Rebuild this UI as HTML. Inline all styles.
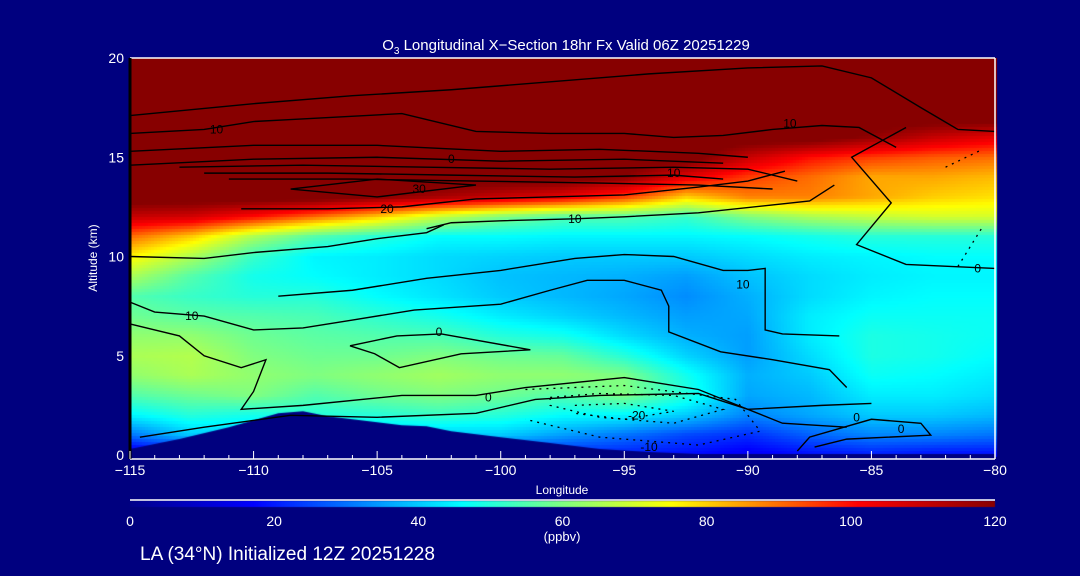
<!DOCTYPE html>
<html><head><meta charset="utf-8"><style>
html,body{margin:0;padding:0;background:#00007f;}
#wrap{position:relative;width:1080px;height:576px;overflow:hidden;background:#00007f;font-family:"Liberation Sans",sans-serif;color:#fff;}
#fill{position:absolute;left:0;top:0;}
svg{position:absolute;left:0;top:0;}
</style></head><body>
<div id="wrap">
<canvas id="fill" width="1080" height="576"></canvas>
<svg id="svg" width="1080" height="576"></svg>
</div>
<script>
// ---- data ----
const lons = [-115,-112.5,-110,-107.5,-105,-102.5,-100,-97.5,-95,-92.5,-90,-87.5,-85,-82.5,-80];
const alts = [0,1,2,3,4,5,6,7,8,9,10,11,12,13,14,15,16,17,18,19,20];
// ozone columns (ppbv) by altitude 0..20 km
const colA = [10,30,45,55,62,65,62,58,55,65,76,90,110,125,125,125,125,125,125,125,125];
const colB = [15,40,50,58,65,66,62,56,52,55,65,80,108,125,125,125,125,125,125,125,125];
const colC = [20,40,48,60,62,60,58,55,50,48,52,65,100,125,125,125,125,125,125,125,125];
const colD = [20,40,50,55,60,58,56,54,50,46,45,55,90,125,125,125,125,125,125,125,125];
const colE = [20,40,50,58,62,58,55,51,46,44,44,50,80,120,125,125,125,125,125,125,125];
const colF = [20,40,52,60,64,60,54,48,43,42,42,46,68,115,125,125,125,125,125,125,125];
const colG = [20,40,50,58,62,58,50,44,40,39,41,46,60,110,125,125,125,125,125,125,125];
const colH = [20,35,46,55,62,57,48,41,38,38,40,45,55,105,125,125,125,125,125,125,125];
const colI = [20,30,45,60,60,50,42,38,36,37,40,45,55,95,120,125,125,125,125,125,125];
const colJ = [18,25,40,50,48,41,37,35,33,35,40,45,52,80,105,125,125,125,125,125,125];
const colK = [15,22,32,36,37,35,35,36,37,39,42,46,60,88,95,110,125,125,125,125,125];
const colL = [18,28,36,38,40,42,44,44,42,42,44,48,65,88,90,100,125,125,125,125,125];
const colM = [20,32,40,44,47,49,49,47,45,44,45,50,68,84,84,95,118,125,125,125,125];
const colN = [18,32,40,44,46,48,48,47,46,45,46,50,70,80,84,92,110,125,125,125,125];
const colO = [18,30,38,42,44,46,47,47,46,45,46,50,70,78,82,90,105,125,125,125,125];
const columns = [colA,colB,colC,colD,colE,colF,colG,colH,colI,colJ,colK,colL,colM,colN,colO];
// terrain
const terrLon = [-115,-113,-111,-109,-108,-107,-106,-104,-103,-102,-100,-98,-96,-94,-92,-80];
const terrAlt = [0.3,0.8,1.4,2.1,2.2,1.95,1.8,1.5,1.45,1.2,0.9,0.6,0.3,0.15,0.05,0.05];
// ticks
const xTicks = [-115,-110,-105,-100,-95,-90,-85,-80];
const yTicks = [0,5,10,15,20];
const cbTicks = [0,20,40,60,80,100,120];
// contour lines [lon,alt] pairs, and dotted ones
const contours = [
 [[-115,17.1],[-110,17.7],[-106,18.1],[-102,18.4],[-98,18.8],[-94,19.2],[-90,19.5],[-87,19.6],[-85,19.0],[-83,17.5],[-81.5,16.4],[-80,16.3]],
 [[-115,16.2],[-112,16.4],[-110,16.8],[-108.5,16.9],[-104,17.2],[-101,16.3],[-98,16.2],[-95,16.2],[-93,16.0],[-91,16.1],[-89,16.4],[-87,16.6],[-85.5,16.5],[-84,15.5]],
 [[-115,15.3],[-110,15.6],[-105,15.6],[-100,15.3],[-96,15.4],[-92,15.2],[-90,15.0]],
 [[-115,14.6],[-110,14.9],[-105,15.0],[-100,14.8],[-95,14.9],[-91,14.7]],
 [[-113,14.5],[-108,14.6],[-103,14.5],[-98,14.4],[-93,14.5],[-90,14.4],[-88,13.8]],
 [[-112,14.2],[-107,14.2],[-102,14.1],[-97,14.0],[-93,14.1],[-91,13.9]],
 [[-111,13.9],[-106,13.9],[-101,13.8],[-96,13.7],[-92,13.6],[-89,13.4]],
 [[-108.5,13.4],[-105,13.9],[-101,13.6],[-105,13.0],[-108.5,13.4]],
 [[-110.5,12.4],[-107,12.4],[-104,12.5],[-101,12.9],[-98,13.0],[-95,13.1],[-92,13.5],[-90,13.8],[-88.5,14.3]],
 [[-103,11.4],[-102,11.7],[-100,11.8],[-97,11.9],[-95,12.0],[-92,12.2],[-89,12.6],[-87.5,12.8],[-86.5,13.6]],
 [[-83.6,16.5],[-85.8,15.0],[-84.2,12.7],[-85.6,10.6],[-83.6,9.6],[-80,9.4]],
 [[-115,10.0],[-112,9.9],[-110,10.2],[-107,10.5],[-105,10.9],[-103,11.2],[-102.3,11.6]],
 [[-115,7.7],[-114,7.2],[-112,7.0],[-110,6.3],[-108,6.4],[-106,6.8],[-103.5,7.3],[-100,7.6],[-98,8.3],[-96.5,8.8],[-95,8.8],[-93.5,8.3],[-93.2,7.5],[-93.2,6.2],[-91.1,5.2],[-89,4.8],[-86.7,4.3],[-86,3.4]],
 [[-115,6.6],[-113,6.0],[-112,5.0],[-110.5,4.4],[-109.5,4.8],[-110,3.2],[-110.5,2.3],[-108,2.5],[-104,3.0],[-101,3.0],[-99,3.4],[-95,3.9],[-92,3.3],[-90,2.3],[-87,2.5],[-85,2.6]],
 [[-106.1,5.5],[-104.2,6.0],[-102.4,6.1],[-98.8,5.3],[-101.6,5.1],[-104.1,4.4],[-105.1,5.1],[-106.1,5.5]],
 [[-109,8.0],[-106,8.3],[-103,8.9],[-100,9.3],[-97,9.9],[-95,10.1],[-93,10.0],[-91,9.3],[-90,9.3],[-89.3,9.4],[-89.3,6.3],[-88.6,6.1],[-86.3,6.0]],
 [[-114.6,0.9],[-112,1.4],[-108.5,2.0],[-105,1.9],[-101,2.1],[-98.6,2.8],[-96,3.0],[-92,3.1],[-90,2.3],[-88.6,1.6],[-86,1.4]],
 [[-88,0.2],[-87.5,0.9],[-85,1.8],[-83,1.6],[-82.6,1.0],[-86,0.8],[-87.3,0.4]]
];
const dotted = [
 [[-98,2.9],[-96,3.1],[-93,3.0],[-91,2.3],[-93,1.6],[-96,1.9],[-98,2.5],[-98,2.9]],
 [[-97,2.5],[-95,2.6],[-93,2.2],[-95,1.8],[-97,2.1]],
 [[-99,3.3],[-95,3.5],[-90.5,2.8],[-89.5,1.2],[-92,0.5],[-96,0.9],[-99,1.8]],
 [[-82,14.5],[-80.5,15.4]],
 [[-81.5,9.5],[-80.5,11.5]]
];
const labels = [["10",-111.5,16.4],["0",-102,14.9],["30",-103.3,13.4],["20",-104.6,12.4],["10",-97,11.9],["10",-88.3,16.7],["10",-93,14.2],["0",-80.7,9.4],["10",-112.5,7.0],["0",-102.5,6.2],["0",-100.5,2.9],["-20",-94.5,2.0],["-10",-94,0.4],["0",-85.6,1.9],["0",-83.8,1.3],["10",-90.2,8.6]];

// ---- axes ----
const X0=130,X1=995,Y0=455,Y1=58;
const xs = lon => X0+(lon+115)/35*(X1-X0);
const ys = a => Y0-a/20*(Y0-Y1);
const stops=[[0,[0,0,138]],[17,[0,0,255]],[46,[0,255,255]],[60,[128,255,128]],[75,[255,255,0]],[101,[255,0,0]],[120,[135,0,0]]];
function cmap(v){v=Math.max(0,Math.min(120,v));for(let i=1;i<stops.length;i++){if(v<=stops[i][0]){const a=stops[i-1],b=stops[i];const t=(v-a[0])/(b[0]-a[0]);return a[1].map((c,k)=>Math.round(c+(b[1][k]-c)*t));}}return stops[stops.length-1][1];}
function val(lon,alt){
  let fi=(lon+115)/2.5; fi=Math.max(0,Math.min(lons.length-1.0001,fi));
  let fj=Math.max(0,Math.min(alts.length-1.0001,alt));
  const i=Math.floor(fi),j=Math.floor(fj),u=fi-i,w=fj-j;
  const a=columns[i][j],b=columns[i+1][j],c=columns[i][j+1],d=columns[i+1][j+1];
  return a*(1-u)*(1-w)+b*u*(1-w)+c*(1-u)*w+d*u*w;
}
const ctx=document.getElementById('fill').getContext('2d');
const step=3;
for(let px=X0;px<X1;px+=step){for(let py=Y1;py<Y0;py+=step){
  const lon=-115+(px+step/2-X0)/(X1-X0)*35, alt=(Y0-(py+step/2))/(Y0-Y1)*20;
  const c=cmap(val(lon,alt)); ctx.fillStyle=`rgb(${c[0]},${c[1]},${c[2]})`; ctx.fillRect(px,py,step,step);
}}
// terrain
ctx.fillStyle='#00007f';ctx.beginPath();ctx.moveTo(xs(terrLon[0]),Y0+4);
terrLon.forEach((l,i)=>ctx.lineTo(xs(l),ys(terrAlt[i])));
ctx.lineTo(X1,Y0+4);ctx.closePath();ctx.fill();
// colorbar
for(let px=130;px<995;px++){const c=cmap((px-130)/865*120);ctx.fillStyle=`rgb(${c[0]},${c[1]},${c[2]})`;ctx.fillRect(px,501,1,6);}

const svg=document.getElementById('svg');const NS='http://www.w3.org/2000/svg';
function mk(tag,attrs,txt){const e=document.createElementNS(NS,tag);for(const k in attrs)e.setAttribute(k,attrs[k]);if(txt!==undefined)e.textContent=txt;svg.appendChild(e);return e;}
contours.forEach(c=>{const e=mk('polyline',{points:c.map(p=>xs(p[0])+','+ys(p[1])).join(' '),fill:'none',stroke:'#000','stroke-width':1.4});

});
dotted.forEach(c=>{const e=mk('polyline',{points:c.map(p=>xs(p[0])+','+ys(p[1])).join(' '),fill:'none',stroke:'#000','stroke-width':1.3,'stroke-dasharray':'2,5'});

});
labels.forEach(l=>{const e=mk('text',{x:xs(l[1]),y:ys(l[2])+4,'font-size':12,fill:'#000','text-anchor':'middle','font-family':'Liberation Sans, sans-serif'},l[0]);

});
// frame
let e;
e=mk('line',{x1:X0,y1:Y1,x2:X1,y2:Y1,stroke:'#fff','stroke-width':1.5});
e=mk('line',{x1:X1,y1:Y1,x2:X1,y2:459,stroke:'#fff','stroke-width':1.5});
e=mk('line',{x1:X0,y1:459,x2:X1,y2:459,stroke:'#fff','stroke-width':1.5});
e=mk('line',{x1:X0,y1:Y1,x2:X0,y2:459,stroke:'#000','stroke-width':3});
for(let l=-115;l<=-80;l++){e=mk('line',{x1:xs(l),y1:459,x2:xs(l),y2:l%5===0?451:455,stroke:'#fff','stroke-width':1});}
xTicks.forEach(t=>{e=mk('text',{x:xs(t),y:475,'font-size':14,fill:'#fff','text-anchor':'middle'},'\u2212'+Math.abs(t));});
yTicks.forEach(t=>{e=mk('text',{x:124,y:ys(t)+5,'font-size':14,fill:'#fff','text-anchor':'end'},String(t));});
cbTicks.forEach(t=>{e=mk('text',{x:130+t/120*865,y:526,'font-size':14,fill:'#fff','text-anchor':'middle'},String(t));});
e=mk('line',{x1:130,y1:500,x2:995,y2:500,stroke:'#fff','stroke-width':1.5});
e=mk('text',{x:562,y:494,'font-size':12,fill:'#fff','text-anchor':'middle'},'Longitude');
e=mk('text',{x:97,y:258,'font-size':12,fill:'#fff','text-anchor':'middle',transform:'rotate(-90 97 258)'},'Altitude (km)');
e=mk('text',{x:562,y:541,'font-size':13,fill:'#fff','text-anchor':'middle'},'(ppbv)');
e=mk('text',{x:566,y:50,'font-size':15,fill:'#fff','text-anchor':'middle'});
e.innerHTML='O<tspan font-size="10" dy="4">3</tspan><tspan dy="-4"> Longitudinal X\u2212Section 18hr  Fx Valid 06Z 20251229</tspan>';
e.setAttribute('xml:space','preserve');
e=mk('text',{x:140,y:560,'font-size':19,fill:'#fff'},'LA (34\u00B0N) Initialized 12Z 20251228');
</script>
</body></html>
